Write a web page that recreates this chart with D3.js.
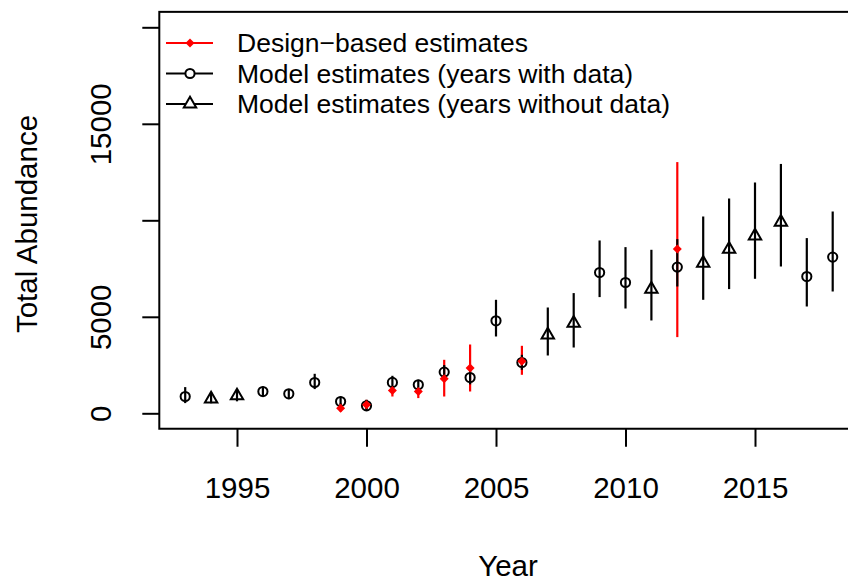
<!DOCTYPE html>
<html>
<head>
<meta charset="utf-8">
<script src="https://cdn.jsdelivr.net/npm/d3@7"></script>
<style>
  body { margin: 0; background: #fff; }
  svg { display: block; font-family: "Liberation Sans", Arial, Helvetica, sans-serif; }
</style>
</head>
<body>
<div id="chart"></div>
<script>
//data
var years = [1993, 1994, 1995, 1996, 1997, 1998, 1999, 2000, 2001, 2002, 2003, 2004, 2005,
             2006, 2007, 2008, 2009, 2010, 2011, 2012, 2013, 2014, 2015, 2016, 2017, 2018];
var modelEst = [871, 751, 907, 1130, 1010, 1596, 611, 389, 1600, 1477, 2135, 1855, 4793,
                2632, 4067, 4673, 7296, 6778, 6435, 7575, 7782, 8508, 9197, 9900, 7088, 8093];
var modelLo = [528, 520, 620, 839, 736, 1254, 352, 130, 1230, 1250, 1800, 1500, 3980,
               2254, 2995, 3409, 6021, 5430, 4810, 6570, 5881, 6435, 6969, 7606, 5534, 6311];
var modelHi = [1357, 1100, 1250, 1389, 1254, 2047, 870, 700, 1943, 1736, 2500, 2250, 5881,
               3031, 5482, 6228, 8955, 8610, 8472, 9024, 10197, 11130, 11959, 12920, 9078, 10456];
//true = years with data (circle), false = years without data (triangle)
var hasData = [true, false, false, true, true, true, true, true, true, true, true, true, true,
               true, false, false, true, true, false, true, false, false, false, false, true, true];

var designYears = [1999, 2000, 2001, 2002, 2003, 2004, 2006, 2012];
var designEst = [260, 440, 1181, 1130, 1788, 2342, 2700, 8508];
var designLo = [93, 181, 870, 788, 870, 1130, 1995, 3948];
var designHi = [528, 700, 1389, 1218, 2772, 3565, 3497, 13016];

var xTicks = [1995, 2000, 2005, 2010, 2015];
var yTicks = [0, 5000, 10000, 15000, 20000];
var yTickLabels = ["0", "5000", "", "15000", ""];

var legendLabels = ["Design\u2212based estimates", "Model estimates (years with data)", "Model estimates (years without data)"];
var legendColors = ["red", "black", "black"];
var legendSymbols = ["diamond", "circle", "triangle"];

(function () {

  var width = 848,
      height = 582;

  var svg = d3.select("#chart")
      .append("svg")
      .attr("width", width)
      .attr("height", height);

  //scales (R style 4% padding: 1992-2019, -800-20800)
  var xPositionScale = d3.scaleLinear()
    .domain([1992, 2019])
    .range([159.3, 858.6]);

  var yPositionScale = d3.scaleLinear()
    .domain([0, 20000])
    .range([413.3, 27.3]);

  var r = 4.6;

  //symbol paths
  function symbolPath(type) {
    if (type === "circle") {
      return "M" + (-r) + ",0A" + r + "," + r + " 0 1,0 " + r + ",0A" + r + "," + r + " 0 1,0 " + (-r) + ",0Z";
    }
    if (type === "triangle") {
      var top = 1.555 * r, half = 1.347 * r, base = 0.778 * r;
      return "M0," + (-top) + "L" + half + "," + base + "L" + (-half) + "," + base + "Z";
    }
    var d = 4.5;
    return "M0," + (-d) + "L" + d + ",0L0," + d + "L" + (-d) + ",0Z";
  }

  var plot = svg.append("g");

  //box
  var box = svg.append("rect")
    .attr("x", xPositionScale(1992))
    .attr("y", yPositionScale(20800))
    .attr("width", xPositionScale(2019) - xPositionScale(1992))
    .attr("height", yPositionScale(-800) - yPositionScale(20800))
    .attr("fill", "none")
    .attr("stroke", "black")
    .attr("stroke-width", 2);

  //axes
  var yAxis = d3.axisLeft(yPositionScale)
    .tickValues(yTicks)
    .tickSize(17)
    .tickFormat(function (d, i) { return yTickLabels[i]; });

  var yG = svg.append("g")
    .attr("class", "axis y-axis")
    .attr("transform", "translate(" + xPositionScale(1992) + ",0)")
    .call(yAxis);

  yG.select(".domain").remove();
  yG.selectAll("line").attr("stroke-width", 2);
  yG.selectAll("text")
    .attr("x", null)
    .attr("dy", "0.35em")
    .attr("text-anchor", "middle")
    .attr("transform", "translate(-59,0) rotate(-90)")
    .attr("font-size", 29.5)
    .attr("font-family", null);

  var xAxis = d3.axisBottom(xPositionScale)
    .tickValues(xTicks)
    .tickSize(18)
    .tickFormat(d3.format("d"));

  var xG = svg.append("g")
    .attr("class", "axis x-axis")
    .attr("transform", "translate(0," + yPositionScale(-800) + ")")
    .call(xAxis);

  xG.select(".domain").remove();
  xG.selectAll("line").attr("stroke-width", 2);
  xG.selectAll("text")
    .attr("y", 69)
    .attr("dy", null)
    .attr("font-size", 29.5)
    .attr("font-family", null);

  //axis titles
  svg.append("text")
    .attr("x", 508)
    .attr("y", 576)
    .attr("text-anchor", "middle")
    .attr("font-size", 29.5)
    .text("Year");

  svg.append("text")
    .attr("transform", "translate(37,224) rotate(-90)")
    .attr("text-anchor", "middle")
    .attr("font-size", 29.5)
    .text("Total Abundance");

  //design-based error bars
  plot.selectAll(".design-bar")
    .data(designYears)
    .enter().append("line")
    .attr("class", "design-bar")
    .attr("x1", function (d) { return xPositionScale(d); })
    .attr("x2", function (d) { return xPositionScale(d); })
    .attr("y1", function (d, i) { return yPositionScale(designLo[i]); })
    .attr("y2", function (d, i) { return yPositionScale(designHi[i]); })
    .attr("stroke", "red")
    .attr("stroke-width", 2.2);

  //model error bars
  plot.selectAll(".model-bar")
    .data(years)
    .enter().append("line")
    .attr("class", "model-bar")
    .attr("x1", function (d) { return xPositionScale(d); })
    .attr("x2", function (d) { return xPositionScale(d); })
    .attr("y1", function (d, i) { return yPositionScale(modelLo[i]); })
    .attr("y2", function (d, i) { return yPositionScale(modelHi[i]); })
    .attr("stroke", "black")
    .attr("stroke-width", 2.2);

  //model points
  plot.selectAll(".model")
    .data(years)
    .enter().append("path")
    .attr("class", "model")
    .attr("transform", function (d, i) {
      return "translate(" + xPositionScale(d) + "," + yPositionScale(modelEst[i]) + ")";
    })
    .attr("d", function (d, i) { return symbolPath(hasData[i] ? "circle" : "triangle"); })
    .attr("fill", "none")
    .attr("stroke", "black")
    .attr("stroke-width", 2);

  //design-based points
  plot.selectAll(".design")
    .data(designYears)
    .enter().append("path")
    .attr("class", "design")
    .attr("transform", function (d, i) {
      return "translate(" + xPositionScale(d) + "," + yPositionScale(designEst[i]) + ")";
    })
    .attr("d", symbolPath("diamond"))
    .attr("fill", "red");

  //legend
  var legend = svg.selectAll(".legend")
    .data(legendLabels)
    .enter().append("g")
    .attr("class", "legend")
    .attr("transform", function (d, i) {
      return "translate(166," + (43 + i * 30.5) + ")";
    });

  legend.append("line")
    .attr("x1", 0)
    .attr("x2", 47)
    .attr("stroke", function (d, i) { return legendColors[i]; })
    .attr("stroke-width", 2);

  legend.append("path")
    .attr("transform", "translate(24,0)")
    .attr("d", function (d, i) { return symbolPath(legendSymbols[i]); })
    .attr("fill", function (d, i) { return legendSymbols[i] === "diamond" ? "red" : "white"; })
    .attr("stroke", function (d, i) { return legendSymbols[i] === "diamond" ? "none" : "black"; })
    .attr("stroke-width", 2);

  legend.append("text")
    .attr("x", 71)
    .attr("dy", "0.35em")
    .attr("font-size", 26.5)
    .text(function (d) { return d; });

})()
</script>
</body>
</html>
